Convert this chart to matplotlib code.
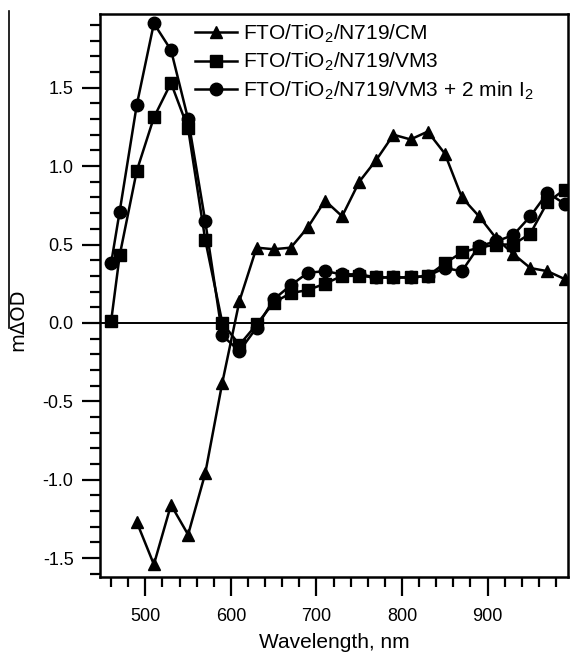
import matplotlib
matplotlib.use("Agg")
import matplotlib.pyplot as plt
from matplotlib.lines import Line2D
from matplotlib.ticker import MultipleLocator

plt.rcParams['font.family'] = ['Liberation Sans', 'DejaVu Sans']
plt.rcParams['mathtext.default'] = 'regular'
plt.rcParams['axes.unicode_minus'] = False

# ----------------------------
# DATA
# ----------------------------
wl_cm = [490, 510, 530, 550, 570, 590, 610, 630, 650, 670, 690, 710, 730,
         750, 770, 790, 810, 830, 850, 870, 890, 910, 930, 950, 970, 990]
od_cm = [-1.27, -1.54, -1.16, -1.35, -0.96, -0.38, 0.14, 0.48, 0.47, 0.48,
         0.61, 0.78, 0.68, 0.90, 1.04, 1.20, 1.17, 1.22, 1.08, 0.80, 0.68,
         0.54, 0.44, 0.35, 0.33, 0.28]

wl_vm = [460, 470, 490, 510, 530, 550, 570, 590, 610, 630, 650, 670, 690, 710,
         730, 750, 770, 790, 810, 830, 850, 870, 890, 910, 930, 950, 970, 990]
od_vm3 = [0.01, 0.43, 0.97, 1.31, 1.53, 1.24, 0.53, 0.00, -0.14, -0.01, 0.13,
          0.19, 0.21, 0.25, 0.30, 0.30, 0.29, 0.29, 0.29, 0.30, 0.38, 0.45,
          0.48, 0.50, 0.50, 0.57, 0.77, 0.85]
od_vm3_i2 = [0.38, 0.71, 1.39, 1.91, 1.74, 1.30, 0.65, -0.08, -0.18, -0.03, 0.15,
             0.24, 0.32, 0.33, 0.31, 0.31, 0.29, 0.29, 0.29, 0.30, 0.35, 0.33,
             0.49, 0.52, 0.56, 0.68, 0.83, 0.76]

labels = [r'FTO/TiO$_2$/N719/CM',
          r'FTO/TiO$_2$/N719/VM3',
          r'FTO/TiO$_2$/N719/VM3 + 2 min I$_2$']

# ----------------------------
# PLOT
# ----------------------------
fig = plt.figure(figsize=(5.70, 6.53), dpi=100)
ax = fig.add_axes([0.1754, 0.1164, 0.8211, 0.8622])

style = dict(color='black', lw=1.8, ms=9)
ax.plot(wl_cm, od_cm, marker='^', label=labels[0], **style)
ax.plot(wl_vm, od_vm3, marker='s', label=labels[1], **style)
ax.plot(wl_vm, od_vm3_i2, marker='o', label=labels[2], **style)
ax.axhline(0, color='black', lw=1.4, zorder=1)

ax.set_xlim(447, 994)
ax.set_ylim(-1.62, 1.97)

ax.xaxis.set_major_locator(MultipleLocator(100))
ax.xaxis.set_minor_locator(MultipleLocator(20))
ax.yaxis.set_major_locator(MultipleLocator(0.5))
ax.yaxis.set_minor_locator(MultipleLocator(0.1))
ax.tick_params(axis='x', which='major', direction='out', length=14, width=1.6,
               labelsize=13, pad=8)
ax.tick_params(axis='x', which='minor', direction='out', length=7, width=1.6)
ax.tick_params(axis='y', which='major', direction='out', length=13, width=1.6,
               labelsize=13, pad=6)
ax.tick_params(axis='y', which='minor', direction='out', length=7, width=1.6)
for s in ax.spines.values():
    s.set_linewidth(1.8)

ax.set_xlabel('Wavelength, nm', fontsize=15, labelpad=6)

# y label with the long overbar
fig.text(0.032, 0.51, 'm\u0394OD', rotation=90, fontsize=14,
         family=['DejaVu Sans'], ha='center', va='center')
fig.add_artist(Line2D([0.0158, 0.0158], [1 - 11 / 653, 1 - 328 / 653],
                      color='black', lw=1.2, transform=fig.transFigure))

ax.legend(loc='upper left', bbox_to_anchor=(0.203, 0.985), frameon=False,
          fontsize=15, handlelength=2.0, handletextpad=0.3, labelspacing=0.3,
          borderpad=0, borderaxespad=0)

plt.savefig('out.png', dpi=100)
